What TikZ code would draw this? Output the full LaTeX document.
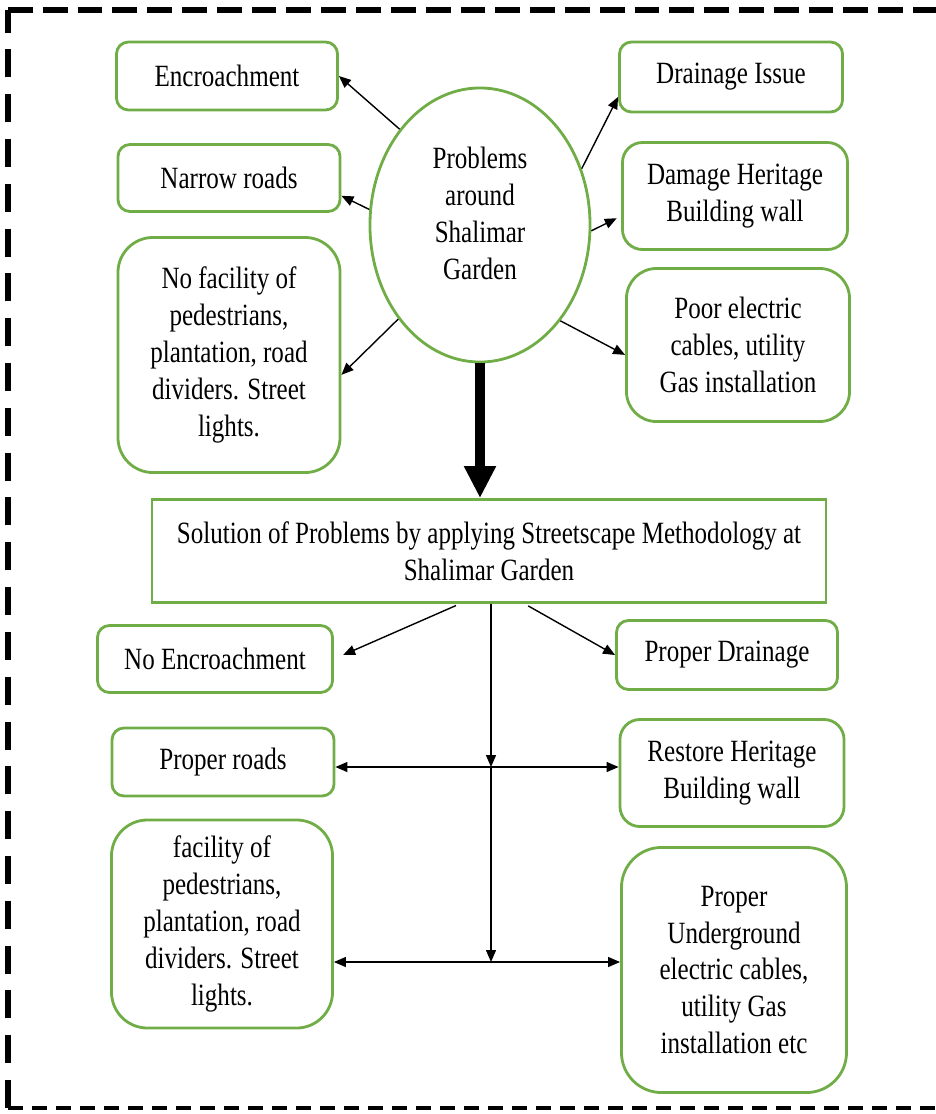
\documentclass[tikz,border=0pt]{standalone}
\usepackage{fontspec}
\setmainfont{Liberation Serif}[FakeStretch=0.81]
\usetikzlibrary{shapes.geometric,arrows.meta}
\definecolor{boxgreen}{RGB}{112,173,71}
\tikzset{
  box/.style={draw=boxgreen, line width=0.07cm, rounded corners=0.3cm, align=center, inner sep=0pt},
  probnode/.style={ellipse, draw=boxgreen, line width=0.07cm, align=center, inner sep=0pt},
  arr/.style={line width=0.035cm, -{Triangle[length=0.3cm,width=0.25cm]}}
}
\begin{document}
\begin{tikzpicture}[x=0.025cm, y=-0.025cm, font=\fontsize{22}{26.3}\selectfont]
\useasboundingbox (0,0) rectangle (936,1114);

% Rahmen
\draw[line width=0.13cm, dash pattern=on 0.7cm off 0.42cm] (8,1108) -- (8,10);
\draw[line width=0.13cm, dash pattern=on 0.62cm off 0.25cm] (8,10) -- (936,10);
\draw[line width=0.08cm, dash pattern=on 0.37cm off 0.23cm] (8,1108) -- (936,1108);

% Probleme
\node[probnode, minimum width=5.5cm, minimum height=6.85cm] (prob) at (480,225) {Problems\\around\\Shalimar\\Garden\\[-0.35cm]\mbox{}};
\node[box, minimum width=5.525cm, minimum height=1.7cm] (enc) at (227,76) {Encroachment};
\node[box, minimum width=5.55cm, minimum height=1.675cm] (narrow) at (229,178) {Narrow roads};
\node[box, rounded corners=0.875cm, minimum width=5.55cm, minimum height=5.875cm] (nofac) at (229,355) {No facility of\\pedestrians,\\plantation, road\\dividers. Street\\lights.};
\node[box, minimum width=5.575cm, minimum height=1.75cm] (drain) at (731,77) {Drainage Issue};
\node[box, rounded corners=0.5cm, minimum width=5.625cm, minimum height=2.675cm] (dam) at (735,196) {Damage Heritage\\Building wall};
\node[box, rounded corners=0.75cm, minimum width=5.575cm, minimum height=3.825cm] (poor) at (738,345) {Poor electric\\cables, utility\\Gas installation};

\draw[arr] (prob.130) -- (enc.east);
\draw[arr] (prob.172) -- (narrow.-9);
\draw[arr] (prob.229) -- (nofac.-10);
\draw[arr] (prob.29) -- (drain.190);
\draw[arr, shorten >=0.12cm] (prob.-3) -- (dam.190);
\draw[arr] (prob.-50) -- (poor.185);

% Loesung
\node[box, sharp corners, minimum width=16.85cm, minimum height=2.575cm] (sol) at (489,551) {Solution of Problems by applying Streetscape Methodology at\\Shalimar Garden};
\draw[line width=0.25cm, -{Triangle[length=0.8cm,width=0.75cm]}] (prob.south) -- (prob.south |- sol.north);

\node[box, minimum width=5.875cm, minimum height=1.675cm] (noenc) at (215,659) {No Encroachment};
\node[box, minimum width=5.525cm, minimum height=1.725cm] (propdr) at (727,655) {Proper Drainage};
\node[box, minimum width=5.55cm, minimum height=1.7cm] (proads) at (223,762) {Proper roads};
\node[box, rounded corners=0.5cm, minimum width=5.6cm, minimum height=2.675cm] (restore) at (732,773) {Restore Heritage\\Building wall};
\node[box, rounded corners=0.9cm, minimum width=5.525cm, minimum height=5.2cm] (fac) at (222,924) {facility of\\pedestrians,\\plantation, road\\dividers. Street\\lights.};
\node[box, rounded corners=1cm, minimum width=5.625cm, minimum height=6.125cm] (under) at (734,970) {Proper\\Underground\\electric cables,\\utility Gas\\installation etc};

\draw[arr, shorten <=0.1cm, shorten >=0.25cm] (sol.241) -- (noenc.east);
\draw[arr, shorten <=0.1cm] (sol.-56) -- (propdr.west);

\coordinate (j1) at (491,767);
\coordinate (j2) at (491,962);
\draw[arr] (sol.south -| j1) -- (j1);
\draw[arr] (j1) -- (j2);
\draw[arr] (j1) -- (j1 -| proads.east);
\draw[arr] (j1) -- (j1 -| restore.west);
\draw[arr] (j2) -- (j2 -| fac.east);
\draw[arr] (j2) -- (j2 -| under.west);
\end{tikzpicture}
\end{document}
